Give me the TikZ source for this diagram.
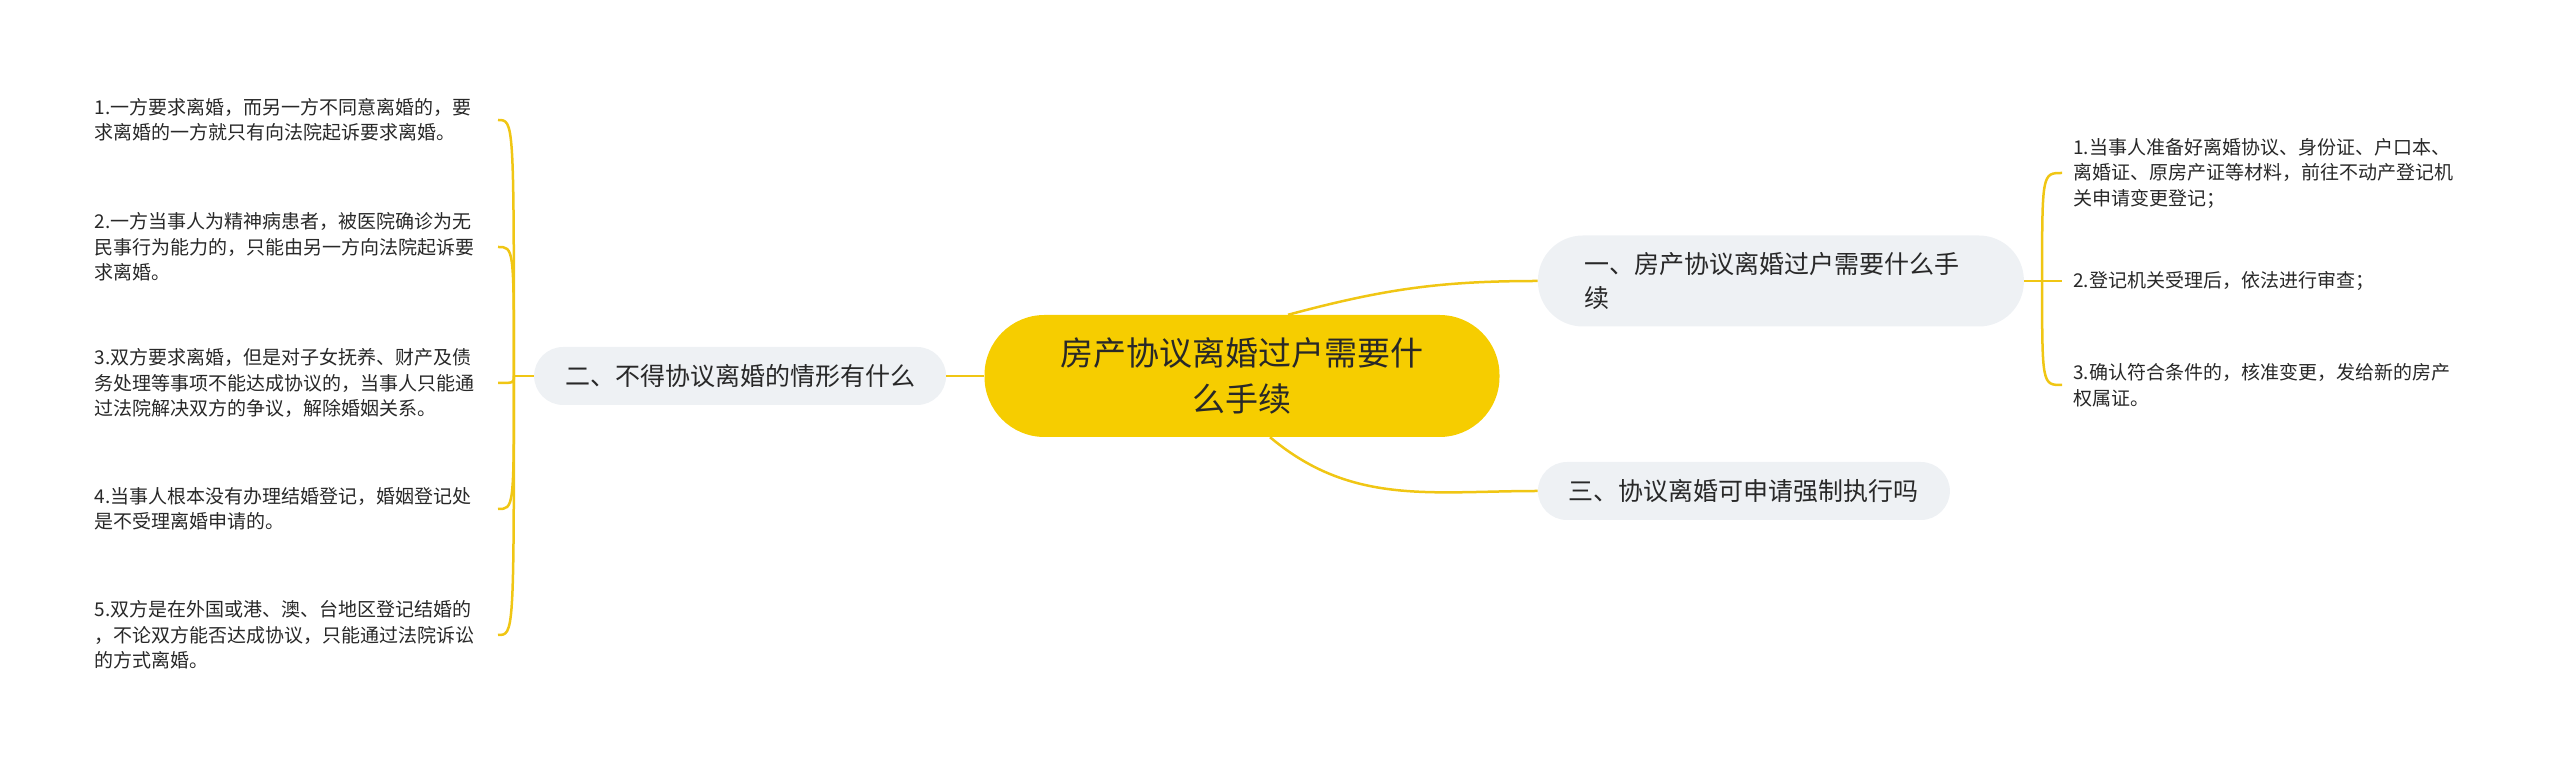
\documentclass[tikz,border=0pt]{standalone}
\usepackage{fontspec}
\setmainfont{Noto Sans CJK SC}
\usetikzlibrary{positioning}
\definecolor{gold}{RGB}{246,205,0}
\definecolor{linkgold}{RGB}{240,198,20}
\definecolor{pale}{RGB}{238,241,244}
\definecolor{ink}{RGB}{40,40,40}

\begin{document}
\begin{tikzpicture}[x=1pt,y=1pt,node distance=38pt,
  root/.style={fill=gold,rounded corners=60pt,minimum width=515pt,minimum height=122pt,align=center,text=ink,font=\fontsize{33pt}{46pt}\selectfont},
  branch/.style={fill=pale,rounded corners=29pt,minimum height=58pt,inner xsep=31pt,text=ink,font=\fontsize{25pt}{34pt}\selectfont},
  leaf/.style={text width=403pt,align=left,inner ysep=0pt,text=ink,font=\fontsize{19pt}{25.5pt}\selectfont},
  link/.style={draw=linkgold,line width=2.5pt},
  brace/.style={to path={.. controls (\tikztostart |- \tikztotarget) .. (\tikztotarget)}}]
\useasboundingbox (0,0) rectangle (2560,765);

\node[root] (root) at (1242,389) {房产协议离婚过户需要什\\么手续};
\node[branch] (b_2) [left=of root] {二、不得协议离婚的情形有什么};
\node[branch,text width=392pt,align=left,inner xsep=47pt,minimum height=91pt,rounded corners=45pt]
  (b_1) [right=of root,yshift=95pt] {一、房产协议离婚过户需要什么手\\续};
\node[branch] (b_3) [right=of root,yshift=-115pt] {三、协议离婚可申请强制执行吗};

% left leaves
\node[leaf,inner xsep=0pt,anchor=east] (l_1) at (498,645) {1.一方要求离婚，而另一方不同意离婚的，要\\求离婚的一方就只有向法院起诉要求离婚。};
\node[leaf,inner xsep=0pt,anchor=east] (l_2) at (498,518) {2.一方当事人为精神病患者，被医院确诊为无\\民事行为能力的，只能由另一方向法院起诉要\\求离婚。};
\node[leaf,inner xsep=0pt,anchor=east] (l_3) at (498,382) {3.双方要求离婚，但是对子女抚养、财产及债\\务处理等事项不能达成协议的，当事人只能通\\过法院解决双方的争议，解除婚姻关系。};
\node[leaf,inner xsep=0pt,anchor=east] (l_4) at (498,256) {4.当事人根本没有办理结婚登记，婚姻登记处\\是不受理离婚申请的。};
\node[leaf,inner xsep=0pt,anchor=east] (l_5) at (498,130) {5.双方是在外国或港、澳、台地区登记结婚的\\，不论双方能否达成协议，只能通过法院诉讼\\的方式离婚。};

% right leaves
\node[leaf,inner xsep=11pt,anchor=west] (r_1) at (2062,592) {1.当事人准备好离婚协议、身份证、户口本、\\离婚证、原房产证等材料，前往不动产登记机\\关申请变更登记；};
\node[leaf,inner xsep=11pt,anchor=west] (r_2) at (2062,484) {2.登记机关受理后，依法进行审查；};
\node[leaf,inner xsep=11pt,anchor=west] (r_3) at (2062,380) {3.确认符合条件的，核准变更，发给新的房产\\权属证。};

\coordinate (j_l) at ([xshift=-20pt]b_2.west);
\coordinate (j_r) at ([xshift=18pt]b_1.east);

\path[link] ([xshift=46pt]root.north) edge[out=15,in=180] (b_1.west)
            ([xshift=28pt]root.south) edge[out=-40,in=180] (b_3.west)
            (root.west) edge (b_2.east)
            (b_2.west) edge (j_l)
            (b_1.east) edge (j_r);
\path[link] (j_l) edge[brace] (l_1.east)
                  edge[brace] (l_2.east)
                  edge[brace] (l_3.east)
                  edge[brace] (l_4.east)
                  edge[brace] (l_5.east)
            (j_r) edge[brace] (r_1.west)
                  edge[brace] (r_2.west)
                  edge[brace] (r_3.west);
\end{tikzpicture}
\end{document}
